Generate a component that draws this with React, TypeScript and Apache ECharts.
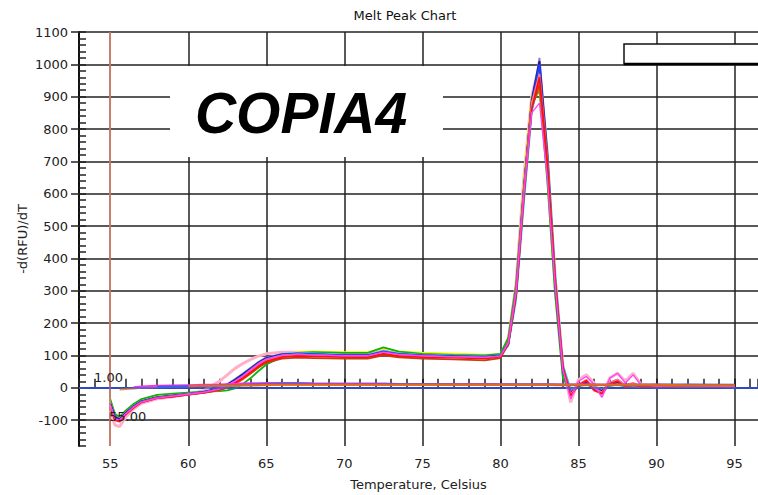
import React, { useEffect, useRef } from "react";
import * as echarts from "echarts";

// Temperature grid (Celsius) shared by all curves
const temps = [55, 55.3, 55.6, 56, 56.5, 57, 58, 59, 60, 61, 62, 62.5, 63, 63.5, 64, 64.5, 65, 66, 67, 68, 70, 71.5, 72.5, 73.5, 75, 77, 79, 80, 80.5, 81, 81.5, 82, 82.5, 83, 83.5, 84, 84.5, 85, 85.5, 86, 86.5, 87, 87.5, 88, 88.5, 89, 90, 92, 95];

// -d(RFU)/dT values
const pinkWell = [-70, -115, -120, -90, -65, -48, -34, -28, -20, -8, 20, 40, 60, 75, 88, 98, 105, 110, 110, 108, 103, 103, 115, 106, 102, 99, 97, 102, 145, 320, 650, 900, 1000, 720, 340, 70, -45, 25, 40, 15, -25, 30, 45, 20, 45, 10, 5, 8, 4];
const yellowWell = [-40, -85, -95, -75, -55, -40, -28, -22, -17, -12, -4, 4, 15, 30, 48, 68, 85, 103, 110, 112, 110, 110, 122, 112, 108, 105, 102, 104, 150, 310, 640, 900, 950, 660, 300, 40, -5, 3, 10, 2, -5, 8, 12, 4, 6, 3, 2, 4, 2];
const greenWell = [-35, -80, -90, -70, -50, -35, -22, -18, -15, -12, -10, -8, -2, 12, 30, 52, 72, 95, 108, 110, 108, 108, 125, 112, 105, 102, 100, 105, 155, 320, 620, 880, 920, 640, 290, 30, -10, 5, 12, 0, -8, 6, 10, 5, 4, 3, 2, 3, 2];
const blueWell = [-50, -95, -100, -80, -58, -42, -30, -25, -20, -14, -3, 8, 22, 38, 58, 76, 90, 102, 106, 104, 100, 100, 112, 104, 100, 98, 96, 100, 140, 300, 620, 880, 1000, 700, 320, 50, -20, 10, 20, -5, -15, 15, 25, 8, 12, 5, 3, 8, 3];
const navyWell = [-48, -90, -98, -78, -58, -42, -30, -24, -19, -13, -2, 9, 25, 42, 60, 78, 92, 103, 105, 103, 100, 100, 110, 103, 100, 97, 95, 98, 135, 290, 610, 890, 1010, 720, 330, 55, -15, 5, 15, 0, -10, 10, 18, 5, 10, 4, 3, 6, 3];
const redWell = [-60, -100, -105, -82, -62, -45, -32, -27, -21, -15, -6, 3, 16, 30, 48, 67, 82, 95, 98, 97, 95, 95, 105, 98, 95, 93, 90, 96, 135, 285, 590, 860, 960, 700, 340, 65, -25, 8, 22, -8, -18, 12, 20, 2, 8, 4, 2, 5, 2];
const orangeWell = [-45, -88, -96, -76, -56, -42, -30, -26, -20, -15, -8, 0, 12, 26, 44, 64, 82, 98, 104, 103, 100, 100, 112, 104, 100, 98, 95, 98, 140, 300, 610, 870, 930, 680, 320, 50, -10, 5, 12, 3, -5, 8, 14, 4, 6, 3, 2, 4, 3];
const cyanWell = [-50, -92, -98, -78, -58, -42, -30, -24, -18, -12, -2, 10, 24, 40, 60, 78, 92, 105, 108, 106, 102, 102, 114, 106, 102, 99, 97, 100, 130, 270, 570, 850, 990, 740, 360, 70, -5, 5, 10, 2, -8, 6, 10, 3, 5, 3, 2, 4, 2];
const magentaWell = [-55, -95, -100, -80, -60, -44, -32, -26, -20, -14, -4, 6, 20, 36, 55, 74, 88, 100, 104, 102, 99, 99, 110, 103, 99, 96, 94, 98, 138, 295, 600, 850, 880, 650, 320, 55, -35, 20, 35, 10, -30, 30, 45, 15, 40, 10, 5, 8, 4];
const brownWell = [-50, -90, -97, -78, -58, -44, -32, -27, -21, -16, -7, 2, 14, 28, 45, 63, 78, 90, 93, 92, 90, 90, 100, 94, 90, 88, 85, 92, 135, 285, 590, 860, 940, 690, 330, 60, -15, 8, 18, -5, -12, 10, 16, 4, 8, 4, 3, 5, 2];
const purpleWell = [-45, -88, -95, -76, -56, -41, -29, -23, -18, -12, 0, 12, 27, 44, 62, 80, 94, 104, 106, 104, 101, 101, 113, 105, 101, 98, 96, 99, 133, 285, 600, 880, 1020, 730, 340, 60, -10, 6, 14, 2, -6, 8, 12, 4, 6, 3, 2, 4, 2];
const salmonWell = [-55, -98, -102, -82, -60, -44, -31, -26, -20, -14, -4, 7, 20, 36, 55, 74, 88, 100, 103, 101, 98, 98, 108, 101, 97, 95, 93, 97, 138, 295, 610, 880, 970, 710, 340, 60, -20, 10, 25, 0, -15, 15, 25, 8, 15, 5, 3, 6, 3];

// Flat (no-template) wells
const ntcOrange = [null, null, -5, -4, -2, 0, 2, 3, 4, 5, 5, 6, 6, 7, 7, 8, 8, 9, 9, 9, 9, 9, 9, 9, 9, 9, 9, 9, 9, 9, 9, 9, 9, 9, 8, 8, 8, 8, 8, 8, 8, 8, 8, 8, 8, 8, 8, 7, 7];
const ntcMagenta = [null, null, null, null, 2, 4, 6, 7, 8, 9, 10, 11, 12, 13, 14, 14, 15, 15, 15, 14, 13, 13, 13, 12, 12, 12, 12, 11, 11, 11, 11, 11, 11, 11, 10, 10, 10, 10, 10, 10, 9, 9, 9, 9, 9, 9, 9, 8, 8];
const ntcBlue = [null, null, null, null, null, null, 3, 4, 5, 6, 7, 8, 8, 9, 10, 11, 12, 13, 13, 12, 11, 11, 12, 11, 11, 10, 10, 10, 10, 10, 10, 10, 10, 10, 10, 9, 9, 9, 9, 9, 9, 9, 9, 9, 9, 9, 10, 10, 9];
const ntcDarkOrange = [null, null, null, null, null, null, null, null, 5, 6, 6, 7, 7, 8, 8, 8, 9, 9, 9, 9, 9, 9, 9, 9, 9, 9, 9, 9, 9, 9, 9, 9, 9, 9, 9, 9, 9, 9, 9, 9, 9, 9, 9, 9, 9, 9, 9, 8, 8];

const xMajorTicks = [55, 60, 65, 70, 75, 80, 85, 90, 95];
const yMajorTicks = [-100, 0, 100, 200, 300, 400, 500, 600, 700, 800, 900, 1000, 1100];
const thresholdTemp = 55;
const thresholdLevel = 1;

const curves = [
  { name: "pink", color: "#ffb0c8", width: 3, values: pinkWell },
  { name: "yellow", color: "#f5f500", width: 2, values: yellowWell },
  { name: "green", color: "#10b010", width: 1.8, values: greenWell },
  { name: "orange", color: "#ff8c00", width: 1.8, values: orangeWell },
  { name: "brown", color: "#c04010", width: 1.8, values: brownWell },
  { name: "cyan", color: "#00e0f0", width: 1.8, values: cyanWell },
  { name: "purple", color: "#8a7ad0", width: 1.8, values: purpleWell },
  { name: "navy", color: "#1a1a90", width: 1.8, values: navyWell },
  { name: "blue", color: "#2040ff", width: 1.8, values: blueWell },
  { name: "salmon", color: "#ff7a7a", width: 1.8, values: salmonWell },
  { name: "red", color: "#ff1010", width: 1.8, values: redWell },
  { name: "magenta", color: "#ff40ff", width: 1.3, values: magentaWell },
  { name: "ntc1", color: "#ff8c00", width: 2, values: ntcOrange },
  { name: "ntc2", color: "#ff30e0", width: 2, values: ntcMagenta },
  { name: "ntc3", color: "#3a60f0", width: 2, values: ntcBlue },
  { name: "ntc4", color: "#e86a10", width: 2, values: ntcDarkOrange },
];

const FONT = "DejaVu Sans";

export default function App() {
  const ref = useRef<HTMLDivElement>(null);
  useEffect(() => {
    if (!ref.current) return;
    const chart = echarts.init(ref.current, null, { renderer: "svg" });
    const series: any[] = curves.map((c) => ({
      name: c.name,
      type: "line",
      xAxisIndex: 0,
      yAxisIndex: 0,
      symbol: "none",
      smooth: false,
      connectNulls: false,
      lineStyle: { color: c.color, width: c.width },
      itemStyle: { color: c.color },
      data: temps.map((t, i) => [t, c.values[i]]),
      z: 3,
    }));
    series.unshift({
      type: "line",
      name: "thresholds",
      data: [],
      xAxisIndex: 0,
      yAxisIndex: 0,
      z: 2,
      markLine: {
        silent: true,
        symbol: "none",
        label: { show: false },
        data: [
          { xAxis: thresholdTemp, lineStyle: { color: "#f08a70", width: 1.5, type: "solid" } },
          { yAxis: thresholdLevel, lineStyle: { color: "#3a5cff", width: 1.5, type: "solid" } },
        ],
      },
    });

    const plain = (v: number) => String(v);

    chart.setOption({
      animation: false,
      backgroundColor: "#ffffff",
      grid: { left: 79, right: 0, top: 32, bottom: 49, outerBoundsMode: "none" },
      xAxis: [
        {
          type: "value",
          min: 53,
          max: 96.5,
          position: "bottom",
          name: "Temperature, Celsius",
          nameLocation: "middle",
          nameGap: 32,
          nameMoveOverlap: false,
          nameTextStyle: { fontFamily: FONT, fontSize: 13, color: "#222" },
          axisLine: { show: true, lineStyle: { color: "#111", width: 2 } },
          axisTick: { show: true, inside: true, length: 9, customValues: xMajorTicks, lineStyle: { color: "#222", width: 1.5 } },
          axisLabel: { customValues: xMajorTicks, formatter: plain, margin: 11, fontFamily: FONT, fontSize: 13, color: "#222" },
          splitLine: { show: true, lineStyle: { color: "#222", width: 1.5 } },
        },
        {
          type: "value",
          min: 53,
          max: 96.5,
          interval: 1,
          position: "bottom",
          axisLine: { show: false },
          axisTick: { show: true, inside: true, length: 9, lineStyle: { color: "#222", width: 1.5 } },
          axisLabel: { show: false },
          splitLine: { show: false },
        },
      ],
      yAxis: [
        {
          type: "value",
          min: -180,
          max: 1100,
          position: "left",
          name: "-d(RFU)/dT",
          nameLocation: "middle",
          nameGap: 50,
          nameMoveOverlap: false,
          nameRotate: 90,
          nameTextStyle: { fontFamily: FONT, fontSize: 13, color: "#222" },
          axisLine: { show: true, lineStyle: { color: "#111", width: 2 } },
          axisTick: { show: true, inside: false, length: 8, customValues: yMajorTicks, lineStyle: { color: "#222", width: 1.5 } },
          axisLabel: { customValues: yMajorTicks, formatter: plain, margin: 11, fontFamily: FONT, fontSize: 13, color: "#222" },
          splitLine: { show: true, lineStyle: { color: "#222", width: 1.5 } },
        },
        {
          type: "value",
          min: -180,
          max: 1100,
          interval: 20,
          position: "left",
          axisLine: { show: false },
          axisTick: { show: true, inside: true, length: 7, lineStyle: { color: "#222", width: 1.5 } },
          axisLabel: { show: false },
          splitLine: { show: false },
        },
      ],
      graphic: [
        { type: "text", x: 405, y: 15, z: 100, style: { text: "Melt Peak Chart", font: `13px "${FONT}"`, fill: "#111", align: "center", verticalAlign: "middle" } },
        { type: "rect", z: 100, shape: { x: 170, y: 66, width: 273, height: 91 }, style: { fill: "#ffffff" } },
        { type: "text", x: 301, y: 113, z: 101, style: { text: "COPIA4", font: `italic bold 57px "Liberation Sans"`, fill: "#000", align: "center", verticalAlign: "middle" } },
        { type: "rect", z: 100, shape: { x: 624, y: 44, width: 140, height: 20 }, style: { fill: "#ffffff", stroke: "#111", lineWidth: 1.5 } },
        { type: "line", z: 101, shape: { x1: 624, y1: 64, x2: 764, y2: 64 }, style: { stroke: "#000", lineWidth: 2.5 } },
        { type: "text", x: 94, y: 377, z: 100, style: { text: "1.00", font: `13px "${FONT}"`, fill: "#222", align: "left", verticalAlign: "middle" } },
        { type: "text", x: 109, y: 416, z: 100, style: { text: "55.00", font: `13px "${FONT}"`, fill: "#222", align: "left", verticalAlign: "middle" } },
      ],
      series,
    });
    return () => chart.dispose();
  }, []);
  return <div ref={ref} style={{ position: "fixed", left: 0, top: 0, width: 758, height: 495 }} />;
}
